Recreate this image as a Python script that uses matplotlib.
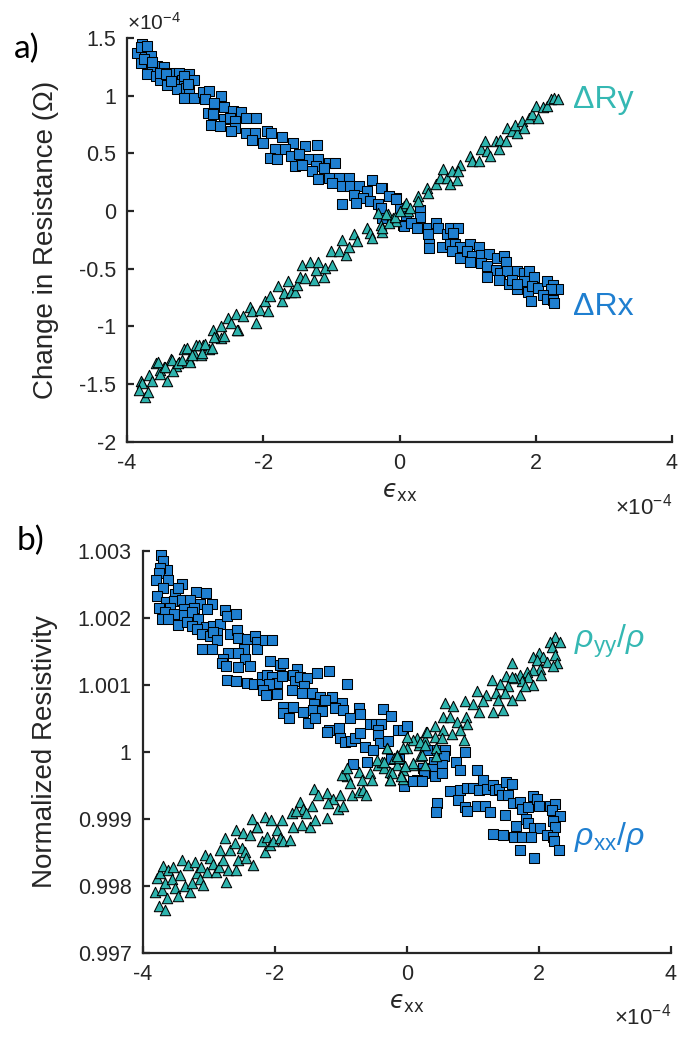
import matplotlib
matplotlib.use('Agg')
import matplotlib.pyplot as plt
from matplotlib.ticker import FuncFormatter

plt.rcParams['font.family'] = ['Liberation Sans', 'DejaVu Sans']
plt.rcParams['mathtext.fontset'] = 'custom'
plt.rcParams['mathtext.rm'] = 'Liberation Sans'
plt.rcParams['mathtext.it'] = 'Liberation Sans:italic'
plt.rcParams['mathtext.bf'] = 'Liberation Sans:bold'

# ---- panel a: change in resistance (x1e-4 ohm) vs strain (x1e-4) ----
rx_pts = [(-3.78, 1.45), (-3.85, 1.37), (-3.73, 1.40), (-3.65, 1.34), (-3.80, 1.28), (-3.75, 1.32),
          (-3.56, 1.26), (-3.46, 1.25), (-3.63, 1.22), (-3.70, 1.19), (-3.58, 1.17), (-3.51, 1.14),
          (-3.36, 1.20), (-3.23, 1.20), (-3.09, 1.19), (-3.01, 1.14), (-3.19, 1.14), (-3.31, 1.10),
          (-3.41, 1.09), (-3.26, 1.06), (-3.14, 1.07), (-3.09, 1.04), (-3.16, 0.98), (-3.01, 0.98),
          (-2.89, 1.03), (-2.79, 1.04), (-2.86, 0.97), (-2.62, 1.00), (-2.72, 0.94), (-2.57, 0.90),
          (-2.81, 0.85), (-2.74, 0.84), (-2.44, 0.87), (-2.32, 0.86), (-2.57, 0.80), (-2.49, 0.81),
          (-2.42, 0.78), (-2.10, 0.81), (-2.25, 0.81), (-2.77, 0.75), (-2.64, 0.74), (-2.42, 0.72),
          (-2.47, 0.69), (-2.25, 0.68), (-2.12, 0.68), (-1.95, 0.69), (-1.88, 0.68), (-2.17, 0.62),
          (-2.00, 0.59), (-1.73, 0.64), (-1.56, 0.59), (-1.38, 0.56), (-1.21, 0.57), (-1.68, 0.54),
          (-1.83, 0.54), (-1.90, 0.46), (-1.80, 0.45), (-1.60, 0.48), (-1.48, 0.49), (-1.33, 0.45),
          (-1.19, 0.45), (-1.04, 0.42), (-0.94, 0.42), (-1.53, 0.39), (-1.43, 0.40), (-1.23, 0.39),
          (-1.11, 0.37), (-1.28, 0.35), (-1.04, 0.29), (-0.89, 0.29), (-0.74, 0.29), (-1.19, 0.28),
          (-0.99, 0.24), (-0.84, 0.22), (-0.72, 0.22), (-0.59, 0.22), (-0.40, 0.27), (-0.25, 0.20),
          (-0.47, 0.17), (-0.67, 0.14), (-0.54, 0.11), (-0.44, 0.09), (-0.64, 0.07), (-0.84, 0.06),
          (-0.15, 0.13), (-0.05, 0.11), (-0.32, 0.06), (-0.27, 0.03), (0.00, 0.03), (0.10, -0.06),
          (0.05, -0.12), (-3.80, 1.42), (-3.70, 1.43), (-3.63, 1.29), (-3.51, 1.20), (-3.43, 1.19),
          (-3.36, 1.13), (-3.16, 1.17), (-3.11, 1.10),
          (-0.27, 0.20), (-0.15, 0.13), (-0.05, 0.10), (-0.27, 0.03), (-0.25, -0.06), (0.30, 0.01),
          (0.30, -0.05), (0.07, -0.13), (0.17, -0.10), (0.25, -0.15), (0.42, -0.15), (0.54, -0.10),
          (0.57, -0.15), (0.42, -0.20), (0.69, -0.20), (0.74, -0.15), (0.86, -0.15), (0.79, -0.19),
          (0.44, -0.29), (0.44, -0.32), (0.62, -0.31), (0.74, -0.29), (0.81, -0.29), (0.89, -0.31),
          (1.04, -0.29), (1.16, -0.31), (0.77, -0.35), (0.89, -0.41), (0.99, -0.35), (1.06, -0.39),
          (1.19, -0.38), (1.31, -0.37), (1.43, -0.41), (1.53, -0.39), (1.04, -0.44), (1.19, -0.45),
          (1.28, -0.48), (1.41, -0.51), (1.56, -0.44), (1.48, -0.54), (1.58, -0.52), (1.73, -0.52),
          (1.83, -0.54), (1.90, -0.52), (1.98, -0.57), (1.28, -0.57), (1.46, -0.60), (1.60, -0.63),
          (1.65, -0.60), (1.83, -0.61), (1.73, -0.68), (1.88, -0.70), (1.95, -0.65), (2.03, -0.67),
          (2.17, -0.61), (2.25, -0.64), (2.32, -0.68), (2.22, -0.68), (2.10, -0.73), (2.17, -0.76),
          (2.25, -0.77), (2.27, -0.80), (1.93, -0.78), (1.73, -0.63)]

ry_pts = [(-3.80, -1.47), (-3.68, -1.42), (-3.58, -1.32), (-3.51, -1.38), (-3.46, -1.35), (-3.36, -1.28),
          (-3.28, -1.34), (-3.23, -1.31), (-3.16, -1.20), (-3.09, -1.28), (-3.01, -1.23), (-2.99, -1.16),
          (-2.89, -1.16), (-2.91, -1.25), (-2.79, -1.20), (-2.74, -1.03), (-2.69, -1.09), (-2.62, -1.10),
          (-2.62, -1.00), (-2.52, -0.93), (-2.47, -0.97), (-2.40, -0.89), (-2.37, -1.03), (-2.30, -0.91),
          (-2.20, -0.83), (-2.17, -0.87), (-2.10, -0.97), (-2.05, -0.86), (-1.98, -0.78), (-1.93, -0.87),
          (-1.90, -0.74), (-1.78, -0.65), (-1.73, -0.78), (-1.70, -0.71), (-1.63, -0.61), (-1.60, -0.70),
          (-1.53, -0.70), (-1.51, -0.64), (-1.46, -0.57), (-1.43, -0.47), (-1.38, -0.58), (-1.31, -0.44),
          (-1.26, -0.60), (-1.23, -0.51), (-1.19, -0.44), (-1.11, -0.57), (-1.09, -0.49), (-1.01, -0.35),
          (-0.99, -0.47), (-0.89, -0.35), (-0.84, -0.25), (-0.79, -0.38), (-0.74, -0.31), (-0.67, -0.20),
          (-0.62, -0.26), (-0.47, -0.15), (-0.44, -0.19), (-0.40, -0.23), (-0.32, -0.02), (-0.27, -0.12),
          (-0.25, -0.18), (-0.17, -0.03), (-0.10, -0.06), (-0.05, -0.09), (0.07, 0.04), (0.12, 0.00),
          (-0.25, -0.15), (-0.15, -0.10), (-0.20, -0.03), (-0.07, -0.05), (0.00, 0.00), (0.10, 0.07),
          (0.15, 0.03), (0.27, 0.13), (0.27, 0.09), (0.40, 0.20), (0.42, 0.16), (0.54, 0.23),
          (0.59, 0.29), (0.64, 0.36), (0.69, 0.29), (0.77, 0.35), (0.74, 0.23), (0.84, 0.27),
          (0.89, 0.40), (0.86, 0.35), (1.04, 0.48), (1.06, 0.43), (1.16, 0.43), (1.19, 0.54),
          (1.26, 0.61), (1.28, 0.52), (1.33, 0.48), (1.41, 0.61), (1.46, 0.54), (1.48, 0.62),
          (1.56, 0.61), (1.58, 0.72), (1.65, 0.69), (1.73, 0.68), (1.70, 0.75), (1.80, 0.78),
          (1.83, 0.72), (1.90, 0.81), (1.95, 0.84), (2.00, 0.91), (2.03, 0.81), (2.10, 0.90),
          (2.17, 0.91), (2.22, 0.97), (2.27, 0.98), (2.32, 0.97),
          (-3.78, -1.49), (-3.83, -1.55), (-3.74, -1.61), (-3.69, -1.57), (-3.64, -1.47), (-3.54, -1.31),
          (-3.51, -1.41), (-3.42, -1.47), (-3.44, -1.35), (-3.34, -1.29), (-3.32, -1.39), (-3.25, -1.32),
          (-3.20, -1.29), (-3.12, -1.19), (-3.07, -1.31), (-3.05, -1.25), (-2.95, -1.16), (-2.90, -1.23),
          (-2.85, -1.15), (-2.75, -1.19), (-2.73, -1.09), (-2.58, -1.08), (-2.39, -1.03)]

# ---- panel b: normalized resistivity vs strain (x1e-4) ----
rho_xx_pts = [(-3.73, 1.00294), (-3.69, 1.00285), (-3.63, 1.00271), (-3.74, 1.00274), (-3.76, 1.00266),
              (-3.80, 1.00256), (-3.61, 1.00256), (-3.69, 1.00244), (-3.51, 1.00236), (-3.41, 1.00250),
              (-3.46, 1.00244), (-3.19, 1.00239), (-3.04, 1.00237), (-3.78, 1.00232), (-3.64, 1.00224),
              (-3.53, 1.00225), (-3.41, 1.00226), (-3.29, 1.00226), (-3.13, 1.00220), (-2.95, 1.00221),
              (-3.76, 1.00215), (-3.58, 1.00214), (-3.38, 1.00213), (-3.23, 1.00215), (-3.03, 1.00213),
              (-3.66, 1.00208), (-3.53, 1.00206), (-3.71, 1.00198), (-3.62, 1.00198), (-3.38, 1.00204),
              (-3.26, 1.00209), (-3.16, 1.00198), (-3.46, 1.00189), (-3.33, 1.00193), (-3.26, 1.00187),
              (-3.04, 1.00186), (-2.93, 1.00187), (-2.83, 1.00191), (-2.75, 1.00211), (-2.73, 1.00203),
              (-2.58, 1.00206), (-3.18, 1.00183), (-3.10, 1.00176), (-2.98, 1.00172), (-2.88, 1.00177),
              (-2.93, 1.00179), (-2.88, 1.00167), (-3.10, 1.00153), (-2.95, 1.00154), (-2.67, 1.00176),
              (-2.57, 1.00181), (-2.55, 1.00169), (-2.42, 1.00168), (-2.30, 1.00173), (-2.27, 1.00163),
              (-2.27, 1.00154), (-2.15, 1.00166), (-2.04, 1.00167), (-2.47, 1.00154), (-2.70, 1.00148),
              (-2.55, 1.00147), (-2.45, 1.00139), (-2.79, 1.00139), (-2.80, 1.00133), (-2.74, 1.00128),
              (-2.55, 1.00126), (-2.37, 1.00128), (-2.07, 1.00136), (-1.92, 1.00129), (-1.88, 1.00133),
              (-1.66, 1.00124), (-2.72, 1.00107), (-2.58, 1.00105), (-2.42, 1.00102), (-2.32, 1.00101),
              (-2.19, 1.00112), (-2.19, 1.00101), (-2.12, 1.00114), (-2.04, 1.00112), (-1.97, 1.00103),
              (-1.89, 1.00113), (-2.08, 1.00101), (-2.17, 1.00092), (-2.13, 1.00084), (-1.97, 1.00086),
              (-1.72, 1.00114), (-1.69, 1.00105), (-1.61, 1.00112), (-1.51, 1.00110), (-1.56, 1.00098),
              (-1.74, 1.00092), (-1.59, 1.00088), (-1.44, 1.00088), (-1.36, 1.00117), (-1.18, 1.00121),
              (-1.31, 1.00082), (-1.13, 1.00081), (-1.24, 1.00077), (-1.41, 1.00071), (-1.88, 1.00067),
              (-1.87, 1.00058), (-1.72, 1.00067), (-1.78, 1.00051), (-1.57, 1.00060), (-1.42, 1.00062),
              (-1.28, 1.00061), (-0.98, 1.00073), (-0.91, 1.00101), (-1.08, 1.00065), (-0.96, 1.00062),
              (-0.86, 1.00050), (-0.73, 1.00065), (-0.71, 1.00056), (-1.49, 1.00043), (-1.39, 1.00051),
              (-1.17, 1.00033), (-1.21, 1.00030), (-1.02, 1.00035), (-1.01, 1.00020), (-0.93, 1.00015),
              (-0.85, 1.00016), (-0.78, 1.00021), (-0.71, 1.00028), (-0.56, 1.00041), (-0.46, 1.00042),
              (-0.39, 1.00042), (-0.44, 1.00033), (-0.43, 1.00025), (-0.36, 1.00063), (-0.24, 1.00053),
              (-0.13, 1.00032), (-0.05, 1.00033), (0.00, 1.00038), (-0.41, 1.00013), (-0.29, 1.00016),
              (-0.63, 1.00007), (-0.51, 1.00002), (-0.82, 0.99982), (-0.60, 0.99984), (-0.24, 0.99989),
              (-0.11, 0.99989), (-0.04, 0.99949),
              (0.33, 1.00002), (0.46, 1.00002), (0.58, 1.00003), (0.56, 0.99994), (0.41, 0.99985),
              (0.53, 0.99980), (0.25, 0.99975), (0.39, 0.99974), (0.26, 0.99968), (0.16, 0.99958),
              (0.09, 0.99957), (0.23, 0.99957), (0.43, 0.99963), (0.53, 0.99968), (0.75, 0.99985),
              (0.81, 0.99972), (0.88, 0.99999), (1.06, 0.99973), (1.16, 0.99958), (0.66, 0.99942),
              (0.81, 0.99943), (0.91, 0.99946), (1.00, 0.99946), (1.10, 0.99943), (1.21, 0.99944),
              (1.30, 0.99950), (1.34, 0.99943), (1.40, 0.99944), (1.51, 0.99955), (1.59, 0.99952),
              (0.78, 0.99928), (0.88, 0.99918), (0.91, 0.99912), (0.46, 0.99924), (0.45, 0.99910),
              (1.06, 0.99919), (1.19, 0.99919), (1.26, 0.99910), (1.45, 0.99935), (1.54, 0.99935),
              (1.61, 0.99923), (1.72, 0.99925), (1.74, 0.99915), (1.84, 0.99918), (1.91, 0.99934),
              (1.97, 0.99930), (2.00, 0.99919), (2.17, 0.99919), (2.25, 0.99922), (2.20, 0.99913),
              (2.32, 0.99904), (2.22, 0.99896), (2.25, 0.99888), (1.49, 0.99905), (1.66, 0.99889),
              (1.81, 0.99900), (1.84, 0.99893), (1.93, 0.99886), (2.02, 0.99886), (2.12, 0.99876),
              (2.22, 0.99873), (1.30, 0.99877), (1.46, 0.99876), (1.62, 0.99872), (1.74, 0.99873),
              (1.89, 0.99873), (2.23, 0.99867), (2.30, 0.99853), (1.72, 0.99854), (1.93, 0.99841)]

rho_yy_pts = [(-3.81, 0.99791), (-3.79, 0.99811), (-3.74, 0.99819), (-3.76, 0.99770), (-3.66, 0.99764),
              (-3.69, 0.99829), (-3.61, 0.99823), (-3.70, 0.99794), (-3.63, 0.99781), (-3.66, 0.99804),
              (-3.56, 0.99810), (-3.54, 0.99828), (-3.51, 0.99796), (-3.46, 0.99784), (-3.41, 0.99838),
              (-3.43, 0.99816), (-3.36, 0.99799), (-3.28, 0.99791), (-3.31, 0.99831), (-3.26, 0.99804),
              (-3.21, 0.99836), (-3.18, 0.99819), (-3.11, 0.99828), (-3.13, 0.99810), (-3.08, 0.99801),
              (-3.03, 0.99821), (-3.06, 0.99846), (-2.98, 0.99842), (-2.93, 0.99833), (-2.89, 0.99821),
              (-2.85, 0.99828), (-2.83, 0.99853), (-2.78, 0.99839), (-2.75, 0.99871), (-2.74, 0.99806),
              (-2.70, 0.99824), (-2.67, 0.99854), (-2.60, 0.99863), (-2.59, 0.99883), (-2.58, 0.99823),
              (-2.55, 0.99838), (-2.50, 0.99856), (-2.48, 0.99878), (-2.45, 0.99851), (-2.43, 0.99841),
              (-2.37, 0.99876), (-2.33, 0.99831), (-2.27, 0.99888), (-2.20, 0.99866), (-2.15, 0.99851),
              (-2.12, 0.99873), (-2.07, 0.99861), (-2.02, 0.99866), (-1.97, 0.99883), (-1.92, 0.99871),
              (-1.87, 0.99866), (-1.77, 0.99868), (-1.72, 0.99888), (-1.59, 0.99891), (-1.46, 0.99887),
              (-1.41, 0.99945), (-1.34, 0.99935), (-1.21, 0.99939), (-1.11, 0.99930), (-1.01, 0.99935),
              (-1.19, 0.99923), (-1.04, 0.99915), (-0.96, 0.99919), (-1.62, 0.99925), (-1.57, 0.99915),
              (-1.44, 0.99919), (-1.74, 0.99908), (-1.67, 0.99911), (-1.52, 0.99908), (-1.39, 0.99898),
              (-1.21, 0.99901), (-1.89, 0.99898), (-2.15, 0.99903), (-2.05, 0.99898), (-2.35, 0.99899),
              (-2.27, 0.99888), (-0.91, 0.99963), (-0.98, 0.99965), (-0.86, 0.99953), (-0.83, 0.99935),
              (-0.73, 0.99940), (-0.66, 0.99943), (-0.61, 0.99935), (-0.73, 0.99970), (-0.68, 0.99958),
              (-0.56, 0.99968), (-0.53, 0.99958), (-0.91, 0.99975), (-0.43, 0.99980), (-0.35, 0.99975),
              (-0.38, 0.99985), (-0.25, 0.99970), (-0.25, 0.99958), (-0.20, 0.99990), (-0.15, 0.99980),
              (-0.11, 0.99990), (-0.05, 0.99973), (-0.05, 0.99960), (0.00, 1.00005), (0.10, 0.99980),
              (0.15, 1.00020), (0.18, 1.00010), (0.28, 1.00017), (0.29, 1.00030), (0.20, 0.99993),
              (0.28, 0.99980), (-0.30, 1.00005), (-0.15, 0.99995), (-0.45, 0.99988),
              (2.25, 1.00171), (2.32, 1.00164), (2.17, 1.00164), (2.20, 1.00156), (2.01, 1.00148),
              (1.92, 1.00141), (2.07, 1.00142), (2.25, 1.00144), (2.12, 1.00134), (2.27, 1.00132),
              (2.21, 1.00128), (1.97, 1.00137), (1.59, 1.00133), (2.02, 1.00124), (2.04, 1.00115),
              (1.92, 1.00122), (1.82, 1.00119), (1.84, 1.00112), (1.72, 1.00115), (1.74, 1.00105),
              (1.64, 1.00110), (1.51, 1.00113), (1.59, 1.00112), (1.92, 1.00099), (1.79, 1.00098),
              (1.72, 1.00085), (1.54, 1.00098), (1.41, 1.00101), (1.29, 1.00107), (1.36, 1.00087),
              (1.49, 1.00087), (1.39, 1.00077), (1.46, 1.00062), (1.60, 1.00077), (1.31, 1.00060),
              (1.20, 1.00085), (1.06, 1.00091), (1.16, 1.00075), (0.88, 1.00076), (1.01, 1.00071),
              (1.09, 1.00060), (0.58, 1.00072), (0.70, 1.00068), (0.55, 1.00052), (0.66, 1.00052),
              (0.76, 1.00045), (0.90, 1.00052), (0.92, 1.00042), (0.81, 1.00032), (0.68, 1.00027),
              (0.87, 1.00018), (0.55, 1.00032), (0.43, 1.00038), (0.30, 1.00030), (0.43, 1.00022),
              (0.53, 1.00020), (0.10, 1.00017), (0.20, 1.00015), (0.00, 1.00022), (0.28, 1.00010),
              (0.23, 0.99995), (0.45, 1.00005), (0.45, 0.99993), (0.10, 0.99983), (-0.05, 1.00005),
              (-0.15, 0.99993), (-0.30, 1.00005), (-0.35, 0.99985), (-0.23, 0.99968), (-0.25, 0.99958),
              (-0.08, 0.99963), (-0.03, 0.99978)]

x_ticks = [-4, -2, 0, 2, 4]
a_yticks = [-2, -1.5, -1, -0.5, 0, 0.5, 1, 1.5]
b_yticks = [0.997, 0.998, 0.999, 1.0, 1.001, 1.002, 1.003]

BLUE = '#1f7fd0'
TEAL = '#2db3ad'
AXC = '#262626'


def style(ax, yticks):
    for s in ['top', 'right']:
        ax.spines[s].set_visible(False)
    for s in ['left', 'bottom']:
        ax.spines[s].set_linewidth(1.6)
        ax.spines[s].set_color(AXC)
    ax.set_xlim(-4, 4)
    ax.set_ylim(yticks[0], yticks[-1])
    ax.set_xticks(x_ticks)
    ax.set_yticks(yticks)
    fmt = FuncFormatter(lambda v, p: '%g' % round(v, 6))
    ax.xaxis.set_major_formatter(fmt)
    ax.yaxis.set_major_formatter(fmt)
    ax.tick_params(direction='in', length=5, width=1.6, colors=AXC,
                   labelsize=15.5, pad=8)
    # lunate epsilon as in the original axis label
    ax.set_xlabel('$\u03f5_{\\rm xx}$', fontsize=17, color=AXC, labelpad=6,
                  math_fontfamily='dejavusans')
    ax.text(1.0, -0.16, r'$\times10^{-4}$', transform=ax.transAxes,
            ha='right', va='center', fontsize=16, color=AXC)


def scat(ax, pts, marker, color, size):
    xs = [p[0] for p in pts]
    ys = [p[1] for p in pts]
    ax.scatter(xs, ys, s=size, marker=marker, c=color, edgecolors='black',
               linewidths=0.75, zorder=3, clip_on=False)


fig = plt.figure(figsize=(6.79, 10.45), dpi=100)
ax1 = fig.add_axes([127 / 679, 1 - 441.7 / 1045, 545 / 679, 403.7 / 1045])
ax2 = fig.add_axes([142.7 / 679, 1 - 952.7 / 1045, 528 / 679, 402 / 1045])

# panel a
scat(ax1, rx_pts, 's', BLUE, 42)
scat(ax1, ry_pts, '^', TEAL, 56)
style(ax1, a_yticks)
ax1.set_ylabel('Change in Resistance (\u03a9)', fontsize=20, color=AXC)
ax1.yaxis.set_label_coords(-0.125, 0.5)
ax1.text(0.0, 1.01, r'$\times10^{-4}$', transform=ax1.transAxes,
         ha='left', va='bottom', fontsize=15, color=AXC)
ax1.text(2.54, 0.89, '\u0394Ry', fontsize=23, color='#35b8b3', va='baseline')
ax1.text(2.54, -0.90, '\u0394Rx', fontsize=23, color=BLUE, va='baseline')
fig.text(27 / 679, 1 - 49 / 1045, 'a)', fontsize=24, family='Lato',
         ha='center', va='center')

# panel b
scat(ax2, rho_xx_pts, 's', BLUE, 42)
scat(ax2, rho_yy_pts, '^', TEAL, 56)
style(ax2, b_yticks)
ax2.set_ylabel('Normalized Resistivity', fontsize=20, color=AXC)
ax2.yaxis.set_label_coords(-0.16, 0.5)
ax2.text(2.54, 1.00155, r'$\rho_{\rm yy}/\rho$', fontsize=23, color='#35b8b3',
         va='baseline')
ax2.text(2.54, 0.99861, r'$\rho_{\rm xx}/\rho$', fontsize=23, color=BLUE,
         va='baseline')
fig.text(30 / 679, 1 - 541 / 1045, 'b)', fontsize=24, family='Lato',
         ha='center', va='center')

fig.savefig('out.png', dpi=100)
